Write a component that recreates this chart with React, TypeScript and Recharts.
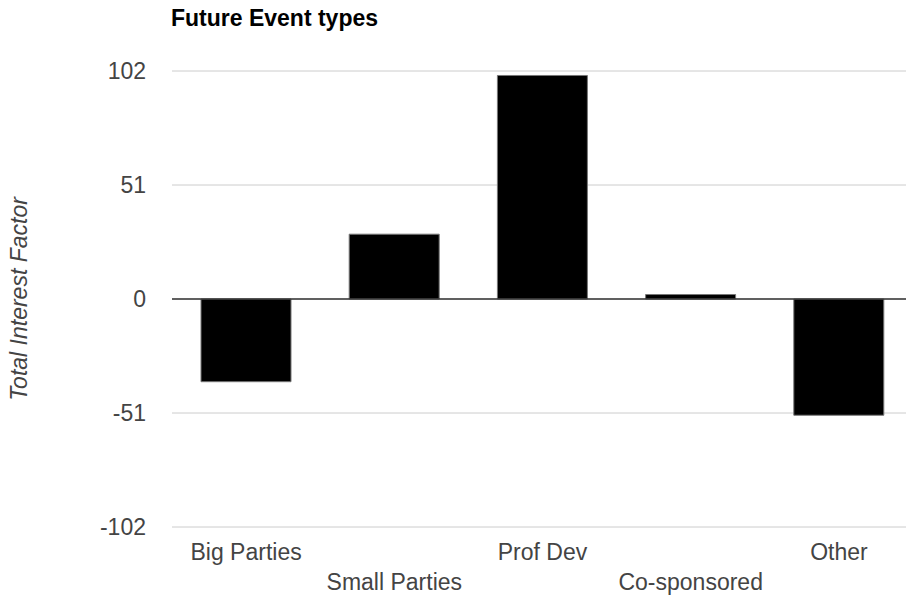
import { Bar, BarChart, CartesianGrid, Label, ReferenceLine, XAxis, YAxis } from "recharts";

const categories = ["Big Parties", "Small Parties", "Prof Dev", "Co-sponsored", "Other"];
const interest = [-37, 29, 100, 2, -52];
const yTicks = [102, 51, 0, -51, -102];

const FONT = '"Liberation Sans", Arial, sans-serif';

const data = categories.map((name, i) => ({ name, value: interest[i] }));

function StaggeredTick(props: any) {
  const { x, y, payload, index } = props;
  const dy = index % 2 === 0 ? 33 : 63;
  return (
    <text x={x} y={y + dy} textAnchor="middle" fill="#444" fontSize={23} fontFamily={FONT}>
      {payload.value}
    </text>
  );
}

function YTitle(props: any) {
  const { viewBox } = props;
  const cy = viewBox.y + viewBox.height / 2;
  const cx = 27;
  return (
    <text
      x={cx}
      y={cy}
      transform={`rotate(-90 ${cx} ${cy})`}
      textAnchor="middle"
      fill="#444"
      fontSize={23}
      fontStyle="italic"
      fontFamily={FONT}
    >
      Total Interest Factor
    </text>
  );
}

export default function App() {
  // plot runs a bit past the right edge in the original, so draw wider and clip
  return (
    <div
      style={{
        position: "absolute",
        left: 0,
        top: 0,
        width: 906,
        height: 602,
        overflow: "hidden",
        background: "#fff",
      }}
    >
      <div
        style={{
          position: "absolute",
          left: 171,
          top: 7,
          fontFamily: FONT,
          fontWeight: "bold",
          fontSize: 23,
          lineHeight: "23px",
          color: "#000",
        }}
      >
        Future Event types
      </div>
      <BarChart width={913} height={602} data={data} margin={{ top: 71, right: 0, left: 0, bottom: 0 }}>
        <CartesianGrid vertical={false} stroke="#ccc" />
        <XAxis
          dataKey="name"
          height={75}
          axisLine={false}
          tickLine={false}
          tickSize={0}
          tickMargin={0}
          interval={0}
          tick={<StaggeredTick />}
        />
        <YAxis
          width={172}
          domain={[-102, 102]}
          ticks={yTicks}
          axisLine={false}
          tickLine={false}
          tickSize={0}
          tickMargin={26}
          tick={{ fill: "#444", fontSize: 23, fontFamily: FONT }}
        >
          <Label content={<YTitle />} />
        </YAxis>
        <ReferenceLine y={0} stroke="#333" strokeWidth={1.5} />
        <Bar dataKey="value" fill="#000" stroke="#777" strokeWidth={1} barSize={90} isAnimationActive={false} />
      </BarChart>
    </div>
  );
}
